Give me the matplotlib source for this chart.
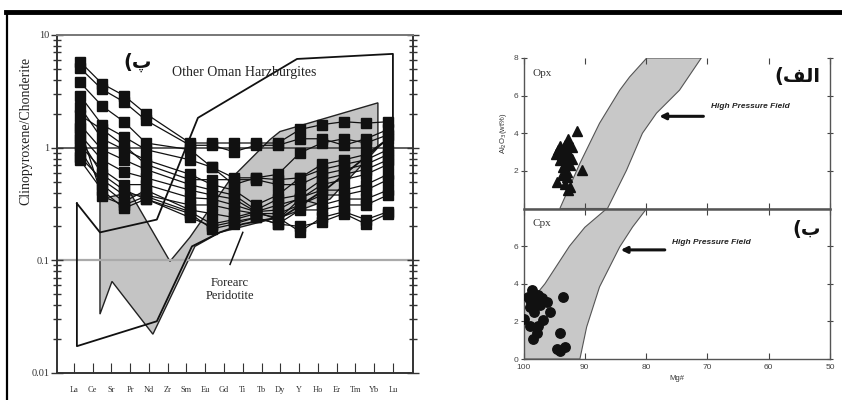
import matplotlib
matplotlib.use("Agg")
import matplotlib.pyplot as plt
from matplotlib.lines import Line2D
from matplotlib.ticker import LogLocator, NullFormatter, FixedLocator, FixedFormatter

# ---------------- left panel: clinopyroxene / chondrite ----------------
elements = ["La", "Ce", "Sr", "Pr", "Nd", "Zr", "Sm", "Eu", "Gd", "Ti",
            "Tb", "Dy", "Y", "Ho", "Er", "Tm", "Yb", "Lu"]
elem_idx = list(range(len(elements)))

# sample columns (Zr slot left empty)
sample_pos = [0, 1, 2, 3, 5, 6, 7, 8, 9, 10, 11, 12, 13, 14]
samples = [
    [5.8, 3.7, 2.9, 2.0, 1.1, 1.1, 1.1, 1.1, 1.1, 1.45, 1.6, 1.7, 1.65, 1.7],
    [5.1, 3.3, 2.55, 1.75, 1.05, 1.05, 0.92, 1.05, 1.05, 1.2, 1.2, 1.05, 1.2, 1.45],
    [3.8, 2.35, 1.7, 1.1, 0.96, 0.67, 0.54, 0.54, 0.58, 0.9, 1.1, 1.2, 1.1, 1.3],
    [2.9, 1.6, 1.25, 0.96, 0.78, 0.67, 0.47, 0.54, 0.52, 0.54, 0.71, 0.78, 0.87, 1.2],
    [2.3, 1.2, 0.96, 0.78, 0.58, 0.47, 0.42, 0.31, 0.38, 0.54, 0.64, 0.71, 0.78, 0.96],
    [1.95, 1.45, 1.05, 0.71, 0.52, 0.52, 0.52, 0.52, 0.47, 0.47, 0.58, 0.64, 0.71, 0.87],
    [1.6, 0.96, 0.78, 0.64, 0.47, 0.42, 0.38, 0.28, 0.35, 0.38, 0.52, 0.58, 0.64, 0.78],
    [1.3, 0.78, 0.61, 0.54, 0.42, 0.38, 0.35, 0.27, 0.31, 0.35, 0.47, 0.52, 0.58, 0.71],
    [1.2, 0.58, 0.42, 0.35, 0.26, 0.19, 0.21, 0.24, 0.21, 0.28, 0.28, 0.31, 0.31, 0.38],
    [1.05, 0.64, 0.47, 0.47, 0.36, 0.35, 0.31, 0.27, 0.28, 0.36, 0.42, 0.42, 0.47, 0.58],
    [0.96, 0.47, 0.33, 0.42, 0.28, 0.26, 0.24, 0.27, 0.23, 0.35, 0.31, 0.35, 0.35, 0.42],
    [0.83, 0.52, 0.38, 0.38, 0.31, 0.31, 0.28, 0.26, 0.26, 0.31, 0.38, 0.38, 0.42, 0.52],
    [1.5, 0.37, 0.31, 0.37, 0.27, 0.21, 0.23, 0.26, 0.24, 0.18, 0.24, 0.27, 0.23, 0.27],
    [0.78, 0.42, 0.29, 0.35, 0.24, 0.2, 0.22, 0.24, 0.21, 0.2, 0.22, 0.26, 0.21, 0.26],
]

# "Other Oman Harzburgites" field (outline)
oman_x = [0.16, 0.16, 4.42, 6.29, 7.78, 9.0, 11.14, 13.6, 17.0, 17.0, 11.89, 6.61, 4.42, 1.39, 0.16]
oman_y = [0.32, 0.0173, 0.0288, 0.133, 0.177, 0.21, 0.245, 0.45, 1.3, 6.8, 6.13, 1.84, 0.23, 0.177, 0.32]

# Forearc peridotite field (grey)
fore_x = [1.39, 2.99, 5.12, 6.18, 8.32, 10.45, 10.98, 16.2, 16.2, 13.65, 11.14,
          10.45, 7.78, 6.45, 4.21, 2.03, 1.39]
fore_y = [0.35, 0.40, 0.098, 0.16, 0.52, 1.18, 1.39, 2.5, 1.0, 0.35, 0.245,
          0.23, 0.177, 0.133, 0.0221, 0.065, 0.0333]

# ---------------- right panels: Al2O3 vs Mg# ----------------
mg_ticks = [100, 90, 80, 70, 60, 50]

opx_band_left_mg = [94.07, 90.8, 87.6, 84.3, 82.7, 79.9]
opx_band_left_al = [0.0, 2.4, 4.53, 6.29, 6.99, 8.0]
opx_band_right_mg = [86.3, 83.2, 80.6, 78.3, 74.55, 71.0]
opx_band_right_al = [0.0, 2.03, 4.0, 5.07, 6.29, 8.0]

cpx_band_left_mg = [100.0, 100.0, 98.5, 96.5, 94.5, 92.5, 90.0, 86.4]
cpx_band_left_al = [0.0, 2.6, 3.2, 4.0, 5.0, 6.0, 7.0, 8.0]
cpx_band_right_mg = [90.8, 89.7, 87.6, 84.3, 82.2, 79.9]
cpx_band_right_al = [0.0, 1.7, 3.83, 5.96, 7.02, 8.0]

opx_mg = [91.35, 92.7, 92.7, 94.34, 93.5, 92.7, 93.8, 92.98, 92.16, 94.07, 93.25,
          92.4, 93.5, 90.5, 92.98, 93.8, 92.98, 94.6, 93.25, 92.4, 92.7, 94.07,
          93.25, 94.7, 92.16]
opx_al = [4.12, 3.72, 3.45, 3.09, 3.09, 3.0, 2.83, 2.74, 2.65, 2.56, 2.38,
          2.29, 2.2, 2.03, 1.94, 1.76, 1.67, 1.4, 1.32, 1.14, 1.0, 3.3,
          3.36, 2.92, 3.27]

cpx_mg = [98.67, 97.6, 98.9, 97.0, 96.2, 98.1, 98.9, 95.7, 98.3, 93.5, 100.0,
          96.8, 98.9, 97.6, 97.85, 98.4, 94.07, 94.6, 93.25, 94.07, 99.2, 97.3]
cpx_al = [3.67, 3.4, 3.14, 3.23, 3.05, 2.96, 2.78, 2.52, 2.52, 3.28, 2.13,
          2.07, 1.76, 1.76, 1.37, 1.05, 1.37, 0.52, 0.66, 0.4, 3.3, 2.87]

SERIF = ["Liberation Serif", "DejaVu Serif"]
SANS = ["Liberation Sans", "DejaVu Sans"]

W, H = 842, 400
fig = plt.figure(figsize=(W / 100, H / 100), dpi=100)


def box(l, t, r, b):
    return [l / W, 1 - b / H, (r - l) / W, (b - t) / H]


# outer frame bits
fig.add_artist(Line2D([6 / W, 1], [1 - 12 / H, 1 - 12 / H], lw=3.5, color="black",
                      transform=fig.transFigure))
fig.add_artist(Line2D([7 / W, 7 / W], [0, 1 - 12 / H], lw=1.6, color="black",
                      transform=fig.transFigure))

# ---- left panel ----
ax = fig.add_axes(box(57, 35, 413, 373))
ax.set_yscale("log")
# samples on their own column spacing (shares the log y axis)
axs = ax.twiny()
axs.set_xlim(-1.045, 15.14)
axs.axis("off")

ax.set_ylim(0.01, 10)
ax.set_xlim(-0.9, 18.07)
ax.fill(fore_x, fore_y, facecolor="#c4c4c4", edgecolor="#222", lw=1.0, zorder=1)
ax.plot(oman_x, oman_y, color="#111", lw=1.3, zorder=2)
ax.axhline(1, color="#444", lw=1.2, zorder=1.5)
ax.axhline(0.1, color="#aaa", lw=1.6, zorder=1.5)

ax.set_xticks(elem_idx)
ax.set_xticklabels(elements, fontsize=6, family=SERIF)
ax.tick_params(axis="x", direction="in", length=7, width=0.8, pad=9, colors="#333")
ax.yaxis.set_major_locator(FixedLocator([0.01, 0.1, 1, 10]))
ax.yaxis.set_major_formatter(FixedFormatter(["0.01", "0.1", "1", "10"]))
ax.yaxis.set_minor_locator(LogLocator(base=10, subs=range(2, 10)))
ax.yaxis.set_minor_formatter(NullFormatter())
ax.tick_params(axis="y", which="both", direction="inout", left=True, right=True,
               width=1.0, colors="#333", labelsize=7.5)
ax.tick_params(axis="y", which="major", length=9, pad=1)
ax.tick_params(axis="y", which="minor", length=6)
for lab in ax.get_yticklabels():
    lab.set_family(SERIF)
for s in ax.spines.values():
    s.set_linewidth(1.4)
    s.set_color("#333")
ax.spines["top"].set_color("#777")

ax.text(9.1, 4.6, "Other Oman Harzburgites", ha="center", va="center",
        fontsize=10, family=SERIF, color="#222")
ax.text(8.3, 0.0554, "Forearc\nPeridotite", ha="center", va="center",
        fontsize=9, family=SERIF, color="#222", linespacing=1.1)
ax.plot([8.32, 9.0], [0.092, 0.177], color="#111", lw=1.1, zorder=3)
ax.text(3.41, 5.77, "(\u067e", ha="center", va="center", fontsize=14,
        family=["DejaVu Sans"], fontweight="bold", color="#111")

for vals in samples:
    axs.plot(sample_pos, vals, color="#111", lw=0.9, marker="s", ms=7.5,
             mfc="#111", mec="#111", zorder=4)

fig.text(26 / W, 1 - 131 / H, "Clinopyroxene/Chonderite", rotation=90,
         ha="center", va="center", fontsize=10, family=SERIF, color="#222")


# ---- right panels ----
def setup_right(a, bottom_labels):
    a.set_xlim(100, 50)
    a.set_ylim(0, 8)
    a.set_xticks(mg_ticks)
    a.tick_params(axis="x", direction="in", top=True, bottom=True, length=4,
                  width=0.8, colors="#444", labelsize=6)
    a.tick_params(axis="y", direction="inout", left=True, right=True, length=4,
                  width=0.8, colors="#444", labelsize=6, pad=2)
    if not bottom_labels:
        a.set_xticklabels([])
    for lab in a.get_xticklabels() + a.get_yticklabels():
        lab.set_family(SANS)
    for s in a.spines.values():
        s.set_linewidth(1.0)
        s.set_color("#555")


ax_t = fig.add_axes(box(523.5, 58, 830, 208.5))
setup_right(ax_t, False)
ax_t.set_yticks([2, 4, 6, 8])
for lab in ax_t.get_yticklabels():
    lab.set_family(SANS)
ax_t.spines["top"].set_visible(False)
ax_t.fill(opx_band_left_mg + opx_band_right_mg[::-1],
          opx_band_left_al + opx_band_right_al[::-1],
          facecolor="#c8c8c8", edgecolor="#555", lw=0.8, zorder=1)
ax_t.plot(opx_mg, opx_al, ls="none", marker="^", ms=6.8, color="#111", zorder=3)
ax_t.annotate("", xy=(78.3, 4.9), xytext=(70.2, 4.9),
              arrowprops=dict(arrowstyle="-|>", color="#111", lw=2.2,
                              mutation_scale=9))
ax_t.text(69.35, 5.4, "High Pressure Field", fontsize=6, family=SANS,
          fontweight="bold", fontstyle="italic", color="#222", va="center")
ax_t.text(98.5, 7.2, "Opx", fontsize=8, family=SERIF, color="#333", va="center")
ax_t.text(51.5, 7.0, "(\ufed2\ufedf\ufe8d", fontsize=14, family=["DejaVu Sans"],
          fontweight="bold", ha="right", va="center", color="#111")
ax_t.set_ylabel("Al$_2$O$_3$(wt%)", fontsize=5.5, family=SANS, color="#333",
                labelpad=3)

ax_b = fig.add_axes(box(523.5, 208.5, 830, 359))
setup_right(ax_b, True)
ax_b.set_yticks([0, 2, 4, 6])
for lab in ax_b.get_yticklabels():
    lab.set_family(SANS)
ax_b.fill(cpx_band_left_mg + cpx_band_right_mg[::-1],
          cpx_band_left_al + cpx_band_right_al[::-1],
          facecolor="#c8c8c8", edgecolor="#555", lw=0.8, zorder=1)
ax_b.plot(cpx_mg, cpx_al, ls="none", marker="o", ms=6.8, color="#111", zorder=3)
ax_b.annotate("", xy=(84.6, 5.8), xytext=(76.5, 5.8),
              arrowprops=dict(arrowstyle="-|>", color="#111", lw=2.2,
                              mutation_scale=9))
ax_b.text(75.7, 6.17, "High Pressure Field", fontsize=6, family=SANS,
          fontweight="bold", fontstyle="italic", color="#222", va="center")
ax_b.text(98.5, 7.2, "Cpx", fontsize=8, family=SERIF, color="#333", va="center")
ax_b.text(51.5, 6.9, "(\u0628", fontsize=14, family=["DejaVu Sans"],
          fontweight="bold", ha="right", va="center", color="#111")
ax_b.set_xlabel("Mg#", fontsize=5.5, family=SANS, color="#333", labelpad=3)
ax_b.spines["top"].set_linewidth(1.8)

fig.savefig("out.png", dpi=100)
